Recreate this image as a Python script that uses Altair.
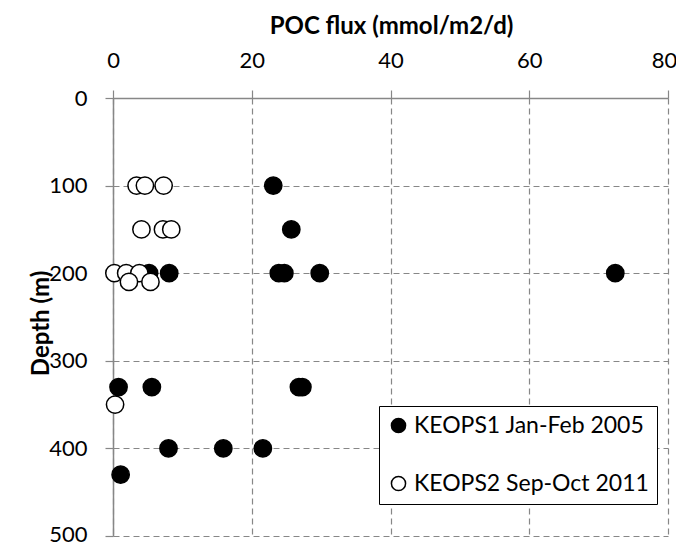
import altair as alt
import pandas as pd

# KEOPS1 Jan-Feb 2005 (filled)
k1_flux = [23.1, 25.7, 5.2, 8.1, 23.9, 24.7, 29.8, 72.4, 0.8, 5.6, 26.8, 27.3, 8.0, 15.9, 21.6, 1.1]
k1_depth = [100, 150, 200, 200, 200, 200, 200, 200, 330, 330, 330, 330, 400, 400, 400, 430]
# KEOPS2 Sep-Oct 2011 (open)
k2_flux = [3.4, 4.6, 7.3, 4.1, 7.2, 8.4, 0.2, 1.9, 3.8, 2.3, 5.4, 0.3]
k2_depth = [100, 100, 100, 150, 150, 150, 200, 200, 200, 210, 210, 350]

series = ["KEOPS1 Jan-Feb 2005", "KEOPS2 Sep-Oct 2011"]
x_ticks = [0, 20, 40, 60, 80]
y_ticks = [0, 100, 200, 300, 400, 500]

df = pd.concat([
    pd.DataFrame({"flux": k1_flux, "depth": k1_depth, "series": series[0]}),
    pd.DataFrame({"flux": k2_flux, "depth": k2_depth, "series": series[1]}),
], ignore_index=True)
df["order"] = range(len(df))

FONT = "Lato"
GRID = "#878787"

chart = alt.Chart(df).mark_point(
    filled=True, shape="circle", size=300, stroke="black", strokeWidth=1.5, opacity=1
).encode(
    x=alt.X("flux:Q", scale=alt.Scale(domain=[0, 80], nice=False),
            axis=alt.Axis(orient="top", values=x_ticks, title="POC flux (mmol/m2/d)",
                          titleFontWeight="bold", titleFontSize=24,
                          titleX=278, titleY=-65, titleAlign="center",
                          titleBaseline="alphabetic", labelPadding=18,
                          labelOffset=alt.condition("datum.value == 80",
                                                    alt.value(-4), alt.value(0)))),
    y=alt.Y("depth:Q", scale=alt.Scale(domain=[0, 500], reverse=True, nice=False),
            axis=alt.Axis(values=y_ticks, title="Depth (m)", titleFontWeight="bold",
                          titleFontSize=24, titleAngle=270, titleX=-72, titleY=225,
                          titleAlign="center", titleBaseline="middle", labelPadding=18,
                          labelOffset=alt.condition("datum.value == 500",
                                                    alt.value(-2), alt.value(0)))),
    fill=alt.Fill("series:N", scale=alt.Scale(domain=series, range=["black", "white"]),
                  legend=alt.Legend(title=None, orient="none", legendX=266, legendY=308,
                                    strokeColor="black", fillColor="white", padding=8,
                                    labelFontSize=23, labelFont=FONT, labelColor="black",
                                    symbolSize=200, symbolStrokeColor="black",
                                    symbolStrokeWidth=1.5, symbolType="circle",
                                    rowPadding=34, labelOffset=4, labelLimit=400)),
    order=alt.Order("order:Q"),
).properties(
    width=555, height=438,
    autosize=alt.AutoSizeParams(type="none"),
    padding={"left": 105, "top": 90, "right": 8, "bottom": 9},
).configure_view(stroke=None).configure_axis(
    domainColor=GRID, domainWidth=1.5, tickColor=GRID, tickSize=8, tickWidth=1.2,
    gridColor=GRID, gridDash=[6, 4], gridWidth=1.2, gridOpacity=1,
    labelFont=FONT, labelFontSize=22, labelColor="black", titleFont=FONT,
    titleColor="black", labelFlush=False,
)

chart.save("out.html", embed_options={"renderer": "svg", "actions": False})
